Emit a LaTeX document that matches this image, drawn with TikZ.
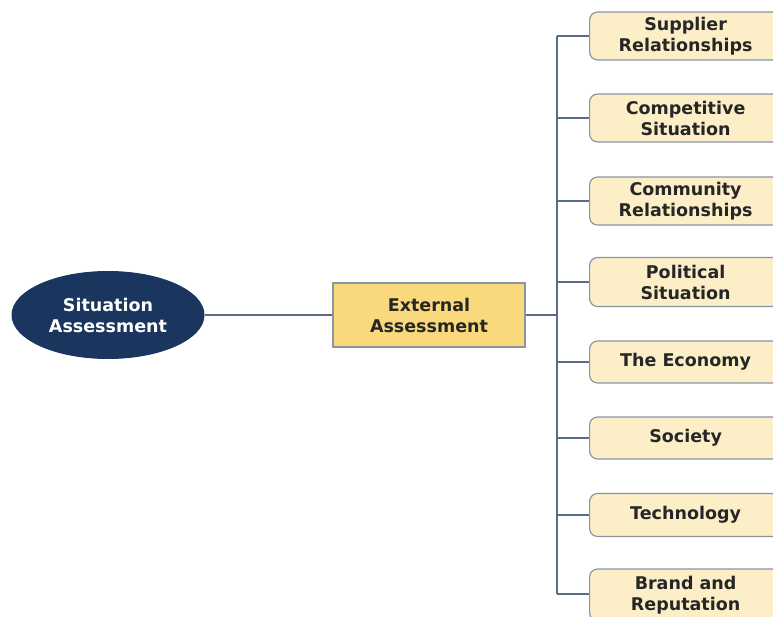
\documentclass[tikz,border=0pt]{standalone}
\usepackage{xcolor}
\usepackage{fontspec}
\setmainfont{DejaVu Sans}
\usetikzlibrary{shapes.geometric}

\definecolor{navy}{HTML}{1A355E}
\definecolor{gold}{HTML}{F9D97C}
\definecolor{cream}{HTML}{FCEFC8}
\definecolor{edge}{HTML}{8A94A3}
\definecolor{link}{HTML}{5D6C86}

\tikzset{
    topic/.style={ellipse, fill=navy, text=white, minimum width=193pt, minimum height=88pt,
        align=center, font=\fontsize{17.5}{21}\selectfont\bfseries},
    mainbox/.style={rectangle, draw=edge, line width=1.2pt, fill=gold, minimum width=192pt,
        minimum height=64pt, align=center, text=black!85, font=\fontsize{17.5}{21}\selectfont\bfseries},
    leaf/.style={rectangle, rounded corners=8pt, draw=edge, line width=1.2pt, fill=cream,
        text=black!85, minimum width=192pt, align=center, anchor=west,
        font=\fontsize{17.5}{21}\selectfont\bfseries},
    link/.style={draw=link, line width=1.4pt}
}

\begin{document}
\begin{tikzpicture}[x=1pt, y=1pt]
                        \useasboundingbox (0,0) rectangle (773,-617);
                        \node (sit) at (108,-315) [topic] {Situation\\Assessment};
                        \node (ext) at (429,-315) [mainbox] {External\\Assessment};
                        \coordinate (top) at (557,-36);
                        \coordinate (bot) at (557,-594);
                        \coordinate (mid) at (557,-315);

                        \foreach \k/\j/\h/\t in {b1/36/48/{Supplier\\Relationships}, b2/118/48/{Competitive\\Situation},
                            b3/201/48/{Community\\Relationships}, b4/282/49/{Political\\Situation},
                            b5/362/42/{The Economy}, b6/438/42/{Society},
                            b7/515/43/{Technology}, b8/595/52/{Brand and\\Reputation}} {
                            \node (\k) at (589,-\j) [leaf, minimum height=\h pt] {\t};
                        }

                        \foreach \k/\j in {b1/36, b2/118, b3/201, b4/282, b5/362, b6/438, b7/515, b8/594} {
                            \draw [link] (557,-\j) -- (\k.west |- 0,-\j);
                        }

                        \draw [link] (sit) -- (ext);
                        \draw [link] (ext) -- (mid);
                        \draw [link] (top) -- (bot);
                    \end{tikzpicture}
\end{document}
